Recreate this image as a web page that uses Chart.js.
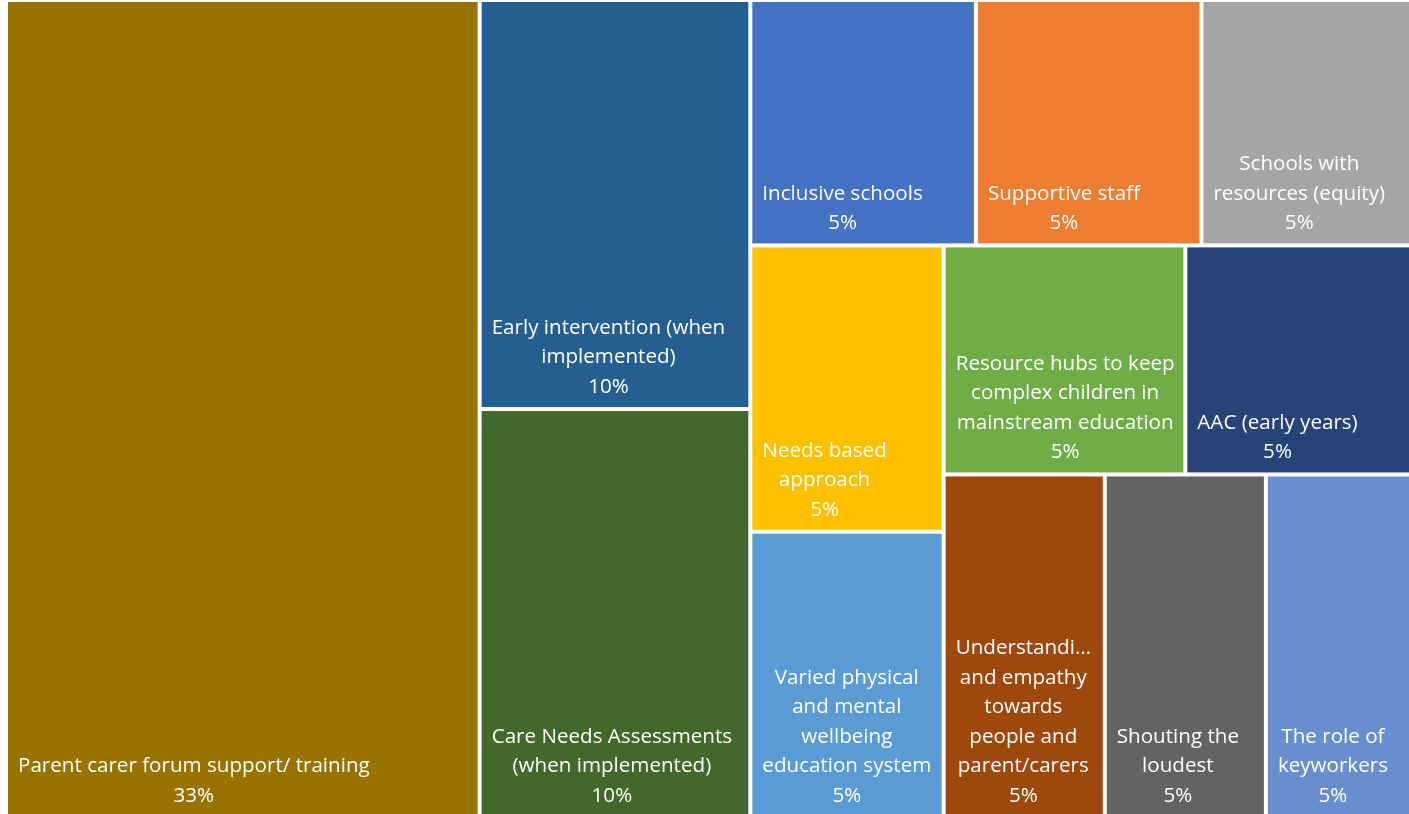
<!DOCTYPE html>
<html>
<head>
<meta charset="utf-8">
<script src="https://cdn.jsdelivr.net/npm/chart.js@4.4.1/dist/chart.umd.min.js"></script>
<style>
html,body{margin:0;padding:0;background:#fff;overflow:hidden;}
#wrap{position:absolute;left:0;top:0;width:1432px;height:822px;}
</style>
</head>
<body>
<div id="wrap"><canvas id="tree"></canvas></div>
<script>
var labels=['Parent carer forum support/ training','Early intervention (when implemented)','Care Needs Assessments (when implemented)',
  'Inclusive schools','Supportive staff','Schools with resources (equity)','Needs based approach',
  'Varied physical and mental wellbeing education system','Resource hubs to keep complex children in mainstream education',
  'AAC (early years)','Understanding and empathy towards people and parent/carers','Shouting the loudest','The role of keyworkers'];
var counts=[7,2,2,1,1,1,1,1,1,1,1,1,1];
var colors=['#997300','#255E91','#43682B','#4472C4','#ED7D31','#A5A5A5','#FFC000','#5B9BD5','#70AD47','#264478','#9E480E','#636363','#698ED0'];

var GAP=2,PAD=10,LH=29.5,FONT='20.6px "Open Sans"';

function sumOf(a){return a.reduce(function(s,it){return s+it.v;},0);}
function ratio(r,sx,sy){var w=r.w*sx,h=r.h*sy;return Math.max(w/h,h/w);}
function worst(rs,sx,sy){var m=0;rs.forEach(function(r){m=Math.max(m,ratio(r,sx,sy));});return m;}
// lay a strip of items along one side of region r
function place(items,all,r,col){
  var s=sumOf(items),f=s/all,rects=[],pos;
  if(col){
    var w=r.w*f;pos=r.y;
    items.forEach(function(it){var h=r.h*it.v/s;rects.push({i:it.i,x:r.x,y:pos,w:w,h:h});pos+=h;});
    return {rects:rects,rest:{x:r.x+w,y:r.y,w:r.w-w,h:r.h}};
  }
  var h=r.h*f;pos=r.x;
  items.forEach(function(it){var w=r.w*it.v/s;rects.push({i:it.i,x:pos,y:r.y,w:w,h:h});pos+=w;});
  return {rects:rects,rest:{x:r.x,y:r.y+h,w:r.w,h:r.h-h}};
}
// squarified layout, with a check for putting all remaining cells in one strip
function solve(items,r,sx,sy){
  if(!items.length) return [];
  var all=sumOf(items),col=r.w*sx>=r.h*sy;
  var k=1,cur=place(items.slice(0,1),all,r,col);
  while(k<items.length){
    var nx=place(items.slice(0,k+1),all,r,col);
    if(worst(nx.rects,sx,sy)<=worst(cur.rects,sx,sy)){cur=nx;k++;}else break;
  }
  var a=cur.rects.concat(solve(items.slice(k),cur.rest,sx,sy));
  var b1=place(items,all,r,true).rects,b2=place(items,all,r,false).rects;
  var b=worst(b1,sx,sy)<worst(b2,sx,sy)?b1:b2;
  return worst(b,sx,sy)<=worst(a,sx,sy)+1e-9?b:a;
}
function wrapText(ctx,text,maxW){
  var words=text.split(' '),lines=[],line='';
  words.forEach(function(w){
    var t=line?line+' '+w:w;
    if(ctx.measureText(t).width<=maxW) line=t;
    else{if(line) lines.push(line);line=w;}
  });
  if(line) lines.push(line);
  return lines.map(function(l){
    if(ctx.measureText(l).width<=maxW) return l;
    while(l.length>1&&ctx.measureText(l+'\u2026').width>maxW) l=l.slice(0,-1);
    return l+'\u2026';
  });
}

var treemapPlugin={
  id:'treemapCells',
  beforeDatasetsDraw:function(chart){
    var xs=chart.scales.x,ys=chart.scales.y,ctx=chart.ctx;
    var sx=Math.abs(xs.getPixelForValue(1)-xs.getPixelForValue(0));
    var sy=Math.abs(ys.getPixelForValue(1)-ys.getPixelForValue(0));
    var items=counts.map(function(v,i){return {v:v,i:i};});
    var total=sumOf(items);
    var rects=solve(items,{x:0,y:0,w:1,h:1},sx,sy);
    ctx.save();
    ctx.font=FONT;
    rects.forEach(function(r){
      var x0=xs.getPixelForValue(r.x)+GAP,x1=xs.getPixelForValue(r.x+r.w)-GAP;
      var y0=ys.getPixelForValue(r.y)+GAP,y1=ys.getPixelForValue(r.y+r.h)-GAP;
      ctx.fillStyle=colors[r.i];
      ctx.fillRect(x0,y0,x1-x0,y1-y0);
      var lines=wrapText(ctx,labels[r.i],x1-x0-2*PAD+2);
      lines.push(Math.round(counts[r.i]/total*100)+'%');
      var bw=0;
      lines.forEach(function(l){bw=Math.max(bw,ctx.measureText(l).width);});
      var cx=x0+PAD+bw/2,lastY=y1-20,n=lines.length-1;
      ctx.fillStyle='#ffffff';
      ctx.textAlign='center';
      ctx.textBaseline='middle';
      lines.forEach(function(l,j){ctx.fillText(l,cx,lastY-(n-j)*LH);});
    });
    ctx.restore();
  }
};

new Chart(document.getElementById('tree'),{
  type:'scatter',
  data:{datasets:[{label:'Responses',data:[]}]},
  options:{
    responsive:true,maintainAspectRatio:false,animation:false,
    layout:{padding:{left:6,right:5,top:0,bottom:4}},
    plugins:{legend:{display:false},tooltip:{enabled:false}},
    scales:{
      x:{type:'linear',min:0,max:1,display:false},
      y:{type:'linear',min:0,max:1,reverse:true,display:false}
    }
  },
  plugins:[treemapPlugin]
});
</script>
</body>
</html>
